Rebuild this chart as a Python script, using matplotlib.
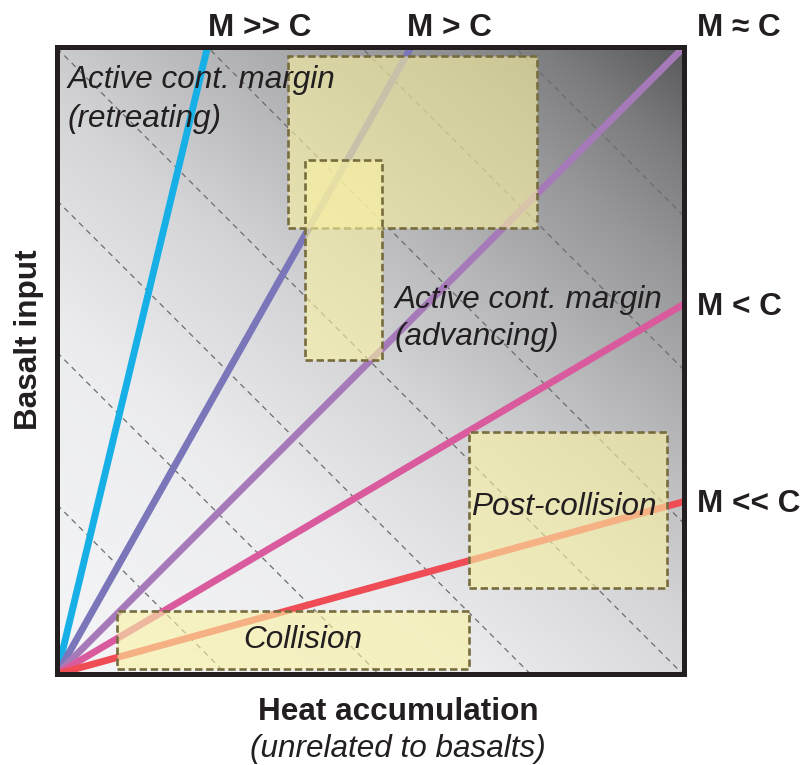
import numpy as np
import matplotlib
matplotlib.use("Agg")
import matplotlib.pyplot as plt
from matplotlib.patches import Rectangle

plt.rcParams['font.family'] = ['Liberation Sans', 'DejaVu Sans']

# ---- data ----
line_labels = ["M >> C", "M > C", "M \u2248 C", "M < C", "M << C"]
line_end_x = [0.24, 0.565, 1.0, 1.0, 1.0]
line_end_y = [1.0, 1.0, 1.0, 0.59, 0.275]
line_colors = ["#17b0e6", "#7a76b9", "#a67ab8", "#da5b9d", "#ef4c55"]

label_x = [0.241, 0.558, 1.021, 1.021, 1.021]
label_y = [1.0175, 1.0175, 1.0175, 0.5726, 0.258]

box_names = ["Active (retreating)", "Active (advancing)", "Post-collision", "Collision"]
box_x0 = [0.368, 0.396, 0.657, 0.096]
box_x1 = [0.766, 0.518, 0.973, 0.657]
box_y0 = [0.711, 0.501, 0.137, 0.008]
box_y1 = [0.986, 0.820, 0.386, 0.100]

region_texts = ["Active cont. margin", "(retreating)", "Active cont. margin",
                "(advancing)", "Post-collision", "Collision"]
region_tx = [0.0175, 0.0175, 0.539, 0.539, 0.660, 0.297]
region_ty = [0.935, 0.872, 0.584, 0.525, 0.254, 0.0415]

guide_c = [0.27, 0.513, 0.755, 0.998, 1.24, 1.485, 1.73]

# background gradient stops along weighted diagonal
grad_t = [0.0, 0.3, 0.5, 0.65, 0.8, 0.9, 1.0]
grad_v = [245, 236, 212, 182, 150, 124, 88]

# ---- figure ----
fig = plt.figure(figsize=(8.03, 7.65), dpi=100)
ax = fig.add_axes([57 / 803, (765 - 674) / 765, 627 / 803, 627 / 765])
ax.set_xlim(0, 1)
ax.set_ylim(0, 1)
ax.set_xticks([])
ax.set_yticks([])
for s in ax.spines.values():
    s.set_linewidth(3.6)
    s.set_color("#231f20")
    s.set_zorder(10)

n = 400
gx, gy = np.meshgrid(np.linspace(0, 1, n), np.linspace(0, 1, n))
t = 0.45 * gx + 0.55 * gy
v = np.interp(t, grad_t, grad_v) / 255.0
img = np.dstack([v, np.clip(v + 0.002, 0, 1), np.clip(v + 0.012, 0, 1)])
ax.imshow(img, extent=[0, 1, 0, 1], origin="lower", aspect="auto", zorder=0,
          interpolation="bilinear")

# guide dashed lines x + y = c
for c in guide_c:
    ax.plot([0, c], [c, 0], color="#6b6c6f", lw=0.9, ls=(0, (4.5, 3.8)),
            zorder=1, solid_capstyle="butt")

# fan lines
for ex, ey, col in zip(line_end_x, line_end_y, line_colors):
    ax.plot([0, ex], [0, ey], color=col, lw=5.0, solid_capstyle="butt", zorder=2)

# boxes
for x0, x1, y0, y1 in zip(box_x0, box_x1, box_y0, box_y1):
    r = Rectangle((x0, y0), x1 - x0, y1 - y0,
                  facecolor=(250 / 255, 242 / 255, 162 / 255, 0.61),
                  edgecolor="#776c3e", lw=1.9, ls=(0, (2.8, 1.4)), zorder=3)
    ax.add_patch(r)

fs = 22.7
tc = "#231f20"
for txt, x, y in zip(region_texts, region_tx, region_ty):
    ax.text(x, y, txt, fontsize=fs, style="italic", color=tc, ha="left",
            va="baseline", zorder=5)

for txt, x, y in zip(line_labels, label_x, label_y):
    ax.text(x, y, txt, fontsize=fs, fontweight="bold", color=tc, ha="left",
            va="baseline", clip_on=False, zorder=5)

ax.text(0.544, (674 - 720) / 627, "Heat accumulation", fontsize=fs,
        fontweight="bold", color=tc, ha="center", va="baseline", clip_on=False)
ax.text(0.544, (674 - 757) / 627, "(unrelated to basalts)", fontsize=fs,
        style="italic", color=tc, ha="center", va="baseline", clip_on=False)
ax.text(-0.045, 0.533, "Basalt input", fontsize=fs, fontweight="bold",
        color=tc, ha="center", va="center", rotation=90, clip_on=False)

fig.savefig("out.png", dpi=100)
